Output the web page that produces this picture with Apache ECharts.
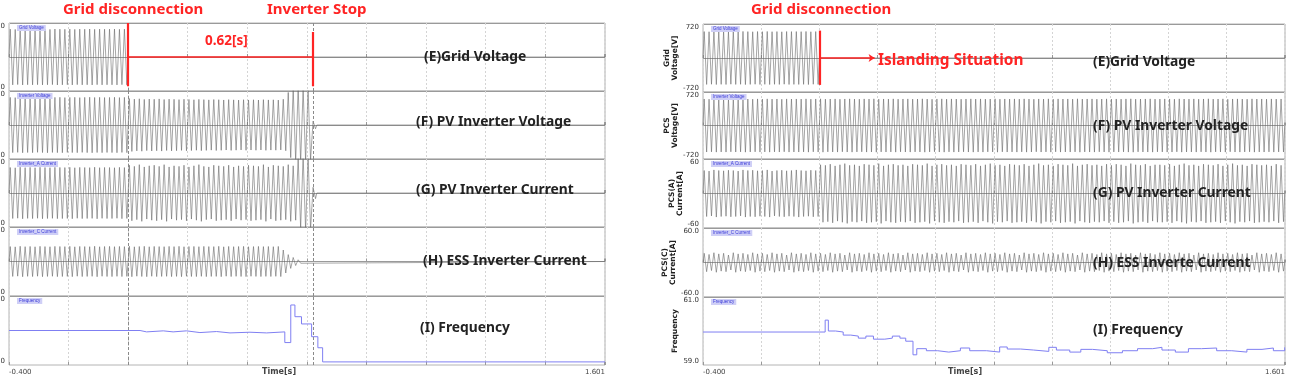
<!DOCTYPE html>
<html><head><meta charset="utf-8">
<script src="https://cdn.jsdelivr.net/npm/echarts@6/dist/echarts.min.js"></script>
<style>html,body{margin:0;padding:0;background:#fff}#c{width:1293px;height:384px}</style>
</head><body><div id="c"></div>
<script>
// ---------------- DATA ----------------
// time axis (s)
const timeStart = -0.4, timeEnd = 1.601;
const xTickLabels = ['-0.400', '1.601'];
const wavePeriod = 1 / 60;           // one 60 Hz cycle (s)
const disconnectT = 0.0;             // grid disconnection
const stopT = 0.62;                  // PV inverter stop (left)
const islandArrowT = 0.19;           // arrow end (right)

// row axes
const rowNames = ['Grid\nVoltage[V]', 'PCS\nVoltage[V]', 'PCS(A)\nCurrent[A]', 'PCS(C)\nCurrent[A]', 'Frequency'];
const rowRanges = [[-720, 720], [-720, 720], [-60, 60], [-60, 60], [59, 61]];
const rowTickLabels = [['720', '-720'], ['720', '-720'], ['60', '-60'], ['60.0', '-60.0'], ['61.0', '59.0']];
const chipNames = ['Grid Voltage', 'Inverter Voltage', 'Inverter_A Current', 'Inverter_C Current', 'Frequency'];

// LEFT: peak amplitude of each cycle (starting at -0.4 s)
const gridVoltL = [590,584,592,587,590,586,591,588,585,592,589,587,591,585,590,588,592,586,590,588,589,591,586,590];
const pvVoltL = [585,580,588,583,586,579,584,588,582,585,587,581,584,586,580,585,588,583,586,582,584,587,581,585,
  560,548,555,542,550,545,552,540,548,544,538,546,541,535,543,538,532,540,536,530,538,533,528,536,530,535,529,537,531,534,528,545,
  690,760,780,770,740,80];
const pvCurL = [45,44.5,45.5,44.8,45.2,44.6,45.4,45,44.7,45.3,45.1,44.9,45.4,44.6,45.2,45,44.8,45.5,44.7,45.1,45,44.6,45.3,44.9,
  49,47,50,46,48,49,47,50,46,48,47,49,46,48,50,47,46,49,48,47,49,46,48,47,49,48,47,50,46,49,48,47,50,48,
  62,66,64,10];
const essCurL = [26,25.5,26.5,25.8,26.2,25.6,26.4,26,25.7,26.3,26.1,25.9,26.4,25.6,26.2,26,25.8,26.5,25.7,26.1,26.3,25.8,26.2,25.9,
  26.5,25.6,26.1,26.4,25.7,26.2,26,25.8,26.3,25.9,26.4,25.7,26.1,26.2,25.8,26.3,26,25.9,26.4,25.6,26.2,25.8,26.1,26.3,25.7,26,26.2,25.9,26.1,25.8,26.2,
  20,12,7,3];
const freqTimeL = [-0.4,0.04,0.062,0.118,0.151,0.196,0.241,0.297,0.342,0.409,0.465,0.526,0.546,0.56,0.582,0.616,0.637,0.653,1.601];
const freqValL  = [60.0,59.96,59.99,59.96,59.99,59.94,59.97,59.93,59.95,59.93,59.96,59.65,60.74,60.4,60.19,59.82,59.5,59.09,59.09];

// RIGHT: peak amplitude of each cycle (starting at -0.4 s)
const gridVoltR = [560,556,562,558,561,555,560,557,563,559,556,561,558,562,557,560,555,561,559,560,558,562,556,560];
const pcsVoltR = [570,566,572,568,571,565,570,567,573,569,566,571,568,572,567,570,565,571,569,570,
  568,572,566,570,573,567,569,571,565,570,572,568,566,571,569,573,567,570,568,572,
  566,570,571,567,569,573,568,565,570,572,567,571,569,566,570,572,568,571,567,569,
  573,566,570,568,571,567,572,569,565,570,568,572,566,571,569,570,567,573,568,570,
  571,566,569,572,568,570,567,571,573,566,569,570,572,567,568,571,570,566,572,569,
  568,571,566,570,573,567,569,572,565,570,571,568,566,572,569,570,567,571,568,570];
const pcsCurAR = [40,39,41,40,39.5,40.5,40,39,41,40,40.5,39.5,40,41,39,40,40.5,39.5,40,41,40,39.5,40.5,40,
  50,49,51,48,50,52,49,50,48,51,50,49,52,48,50,51,
  49,50,48,51,50,49,52,48,50,51,49,50,48,51,50,49,51,48,50,52,
  49,50,48,51,50,49,51,48,50,52,49,50,48,51,50,49,52,48,50,51,
  49,50,48,51,49,51,50,48,52,50,49,51,48,50,50,49,51,48,50,52,
  49,50,48,51,50,49,51,48,50,52,49,50,48,51,50,49,50,48,51,49];
const pcsCurCR = [16,14,17,15,16,13,17,15,16,14,17,15,16,14,17,15,16,13,17,15,
  16,14,17,15,16,14,17,15,16,13,17,15,16,14,17,15,16,14,17,15,
  16,13,17,15,16,14,17,15,16,14,17,15,16,13,17,15,16,14,17,15,
  16,14,17,15,16,13,17,15,16,14,17,15,16,14,17,15,16,13,17,15,
  16,14,17,15,16,14,17,15,16,13,17,15,16,14,17,15,16,14,17,15,
  16,13,17,15,16,14,17,15,16,14,17,15,16,13,17,15,16,14,17,15];
const freqTimeR = [-0.4,0.02,0.031,0.056,0.082,0.108,0.134,0.16,0.186,0.225,0.251,0.277,0.297,0.322,0.335,0.368,0.407,0.445,0.485,0.517,0.575,0.62,0.646,0.692,0.737,0.789,0.815,0.861,0.899,0.939,0.99,1.042,1.094,1.146,1.178,1.224,1.269,1.314,1.366,1.418,1.47,1.522,1.561,1.6,1.601];
const freqValR  = [59.97,60.32,60.0,59.97,59.88,59.85,59.79,59.85,59.76,59.79,59.85,59.79,59.7,59.3,59.48,59.42,59.38,59.42,59.5,59.42,59.38,59.53,59.47,59.44,59.4,59.52,59.44,59.38,59.46,59.42,59.36,59.42,59.48,59.52,59.44,59.38,59.48,59.5,59.42,59.38,59.46,59.5,59.42,59.52,59.52];

// ---------------- LAYOUT ----------------
const panels = [
  {left: 9, width: 596, tops: [23, 91, 159, 227, 296], heights: [68, 68, 68, 69, 69]},
  {left: 703, width: 582, tops: [24, 92, 159, 228, 297], heights: [68, 67, 69, 69, 68]}
];

function wave(amps) {
  const pts = [[timeStart, 0]];
  amps.forEach((a, i) => {
    const tc = timeStart + i * wavePeriod;
    pts.push([tc + wavePeriod / 4, a], [tc + 3 * wavePeriod / 4, -a]);
  });
  const tEnd = timeStart + amps.length * wavePeriod;
  pts.push([Math.min(tEnd, timeEnd), 0], [timeEnd, 0]);
  return pts;
}
function zip(a, b) { return a.map((v, i) => [v, b[i]]); }

const panelData = [
  [wave(gridVoltL), wave(pvVoltL), wave(pvCurL), wave(essCurL), zip(freqTimeL, freqValL)],
  [wave(gridVoltR), wave(pcsVoltR), wave(pcsCurAR), wave(pcsCurCR), zip(freqTimeR, freqValR)]
];

const grids = [], xAxes = [], yAxes = [], series = [], graphics = [];
const RED = '#ff2424';
panels.forEach((p, pi) => {
  for (let r = 0; r < 5; r++) {
    const idx = grids.length;
    grids.push({left: p.left, width: p.width, top: p.tops[r], height: p.heights[r], show: true,
      containLabel: false, outerBoundsMode: 'none',
      borderColor: '#b4b4b4', borderWidth: 1, backgroundColor: '#fff'});
    xAxes.push({type: 'value', gridIndex: idx, min: timeStart, max: timeEnd, interval: 0.2,
      axisLine: {show: false}, axisTick: {show: true, inside: true, length: 3, lineStyle: {color: '#999'}},
      splitLine: {show: true, lineStyle: {color: '#d4d4d4', type: [2, 2], width: 1}},
      axisLabel: {show: r === 4, fontSize: 7, color: '#444', fontFamily: 'DejaVu Sans', margin: 4,
        alignMinLabel: 'left', alignMaxLabel: 'right',
        formatter: v => Math.abs(v - timeStart) < 1e-6 ? xTickLabels[0] : (Math.abs(v - timeEnd) < 1e-6 ? xTickLabels[1] : '')}
    });
    const rg = rowRanges[r];
    yAxes.push({type: 'value', gridIndex: idx, min: rg[0], max: rg[1], interval: (rg[1] - rg[0]) / 2,
      axisLine: {show: false}, axisTick: {show: false},
      splitLine: {show: r !== 4, lineStyle: {color: '#9a9a9a', width: 1}},
      axisLabel: {fontSize: 7, color: '#333', fontFamily: 'DejaVu Sans', margin: 4,
        verticalAlignMinLabel: 'bottom', verticalAlignMaxLabel: 'top',
        formatter: v => v === rg[1] ? rowTickLabels[r][0] : (v === rg[0] ? rowTickLabels[r][1] : '')},
      name: rowNames[r], nameLocation: 'middle', nameRotate: 90, nameGap: 13,
      nameTextStyle: {fontSize: 7.5, fontWeight: 'bold', color: '#222', lineHeight: 8, fontFamily: 'DejaVu Sans'}
    });
    const s = {type: 'line', xAxisIndex: idx, yAxisIndex: idx, data: panelData[pi][r], showSymbol: false,
      symbol: 'none', animation: false, silent: true, clip: true, z: 3,
      lineStyle: r === 4 ? {color: '#7f7ff2', width: 1} : {color: '#6a6a6a', width: 0.6}};
    if (r === 4) s.step = 'end';
    const ml = [];
    if (pi === 0) {
      ml.push({xAxis: disconnectT, lineStyle: {color: '#8a8a8a', type: [3, 2], width: 1}},
              {xAxis: stopT, lineStyle: {color: '#8a8a8a', type: [3, 2], width: 1}});
    }
    if (r === 0) {
      if (pi === 0) {
        ml.push([{coord: [disconnectT, 720], lineStyle: {color: RED, width: 2.2, type: 'solid'}}, {coord: [disconnectT, -620]}]);
        ml.push([{coord: [stopT, 530], lineStyle: {color: RED, width: 2.2, type: 'solid'}}, {coord: [stopT, -620]}]);
        ml.push([{coord: [disconnectT, 0], lineStyle: {color: RED, width: 1.6, type: 'solid'}}, {coord: [stopT, 0]}]);
      } else {
        ml.push([{coord: [disconnectT, 580], lineStyle: {color: RED, width: 2.2, type: 'solid'}}, {coord: [disconnectT, -570]}]);
        ml.push([{coord: [disconnectT, 0], lineStyle: {color: RED, width: 1.6, type: 'solid'}, symbol: 'none'}, {coord: [islandArrowT, 0], symbol: 'arrow', symbolSize: 6}]);
      }
    }
    if (ml.length) s.markLine = {silent: true, symbol: 'none', label: {show: false}, animation: false, data: ml, z: 4};
    series.push(s);
    // chip labels
    graphics.push({type: 'text', x: p.left + 8, y: p.tops[r] + 2, z: 10,
      style: {text: chipNames[r], fill: '#3a3ad8', font: '4.5px sans-serif', backgroundColor: '#cfcff6', padding: [0.5, 2]}});
  }
});

// text annotations
const bold = (t, x, y, size, color) => ({type: 'text', x: x, y: y, z: 20,
  style: {text: t, fill: color, font: 'bold ' + size + 'px "Noto Sans"', textVerticalAlign: 'middle'}});
const LBL = 13.8;
graphics.push(
  bold('Grid disconnection', 63, 10, 15, RED),
  bold('Inverter Stop', 267, 10, 15, RED),
  bold('0.62[s]', 205, 41, 13.5, RED),
  bold('(E)Grid Voltage', 424, 57, LBL, '#222'),
  bold('(F) PV Inverter Voltage', 416, 122, LBL, '#222'),
  bold('(G) PV Inverter Current', 416, 190, LBL, '#222'),
  bold('(H) ESS Inverter Current', 423, 261, LBL, '#222'),
  bold('(I) Frequency', 420, 328, LBL, '#222'),
  bold('Grid disconnection', 751, 10, 15, RED),
  bold('Islanding Situation', 878, 61, 15.4, RED),
  bold('(E)Grid Voltage', 1093, 62, LBL, '#222'),
  bold('(F) PV Inverter Voltage', 1093, 126, LBL, '#222'),
  bold('(G) PV Inverter Current', 1093, 193, LBL, '#222'),
  bold('(H) ESS Inverte Current', 1093, 263, LBL, '#222'),
  bold('(I) Frequency', 1093, 330, LBL, '#222'),
  {type: 'text', x: 262, y: 372, z: 20, style: {text: 'Time[s]', fill: '#444', font: 'bold 8px "DejaVu Sans"', textVerticalAlign: 'middle'}},
  {type: 'text', x: 948, y: 372, z: 20, style: {text: 'Time[s]', fill: '#444', font: 'bold 8px "DejaVu Sans"', textVerticalAlign: 'middle'}}
);

const chart = echarts.init(document.getElementById('c'), null, {renderer: 'canvas'});
chart.setOption({animation: false, backgroundColor: '#fff', grid: grids, xAxis: xAxes, yAxis: yAxes, series: series, graphic: graphics});
</script></body></html>
